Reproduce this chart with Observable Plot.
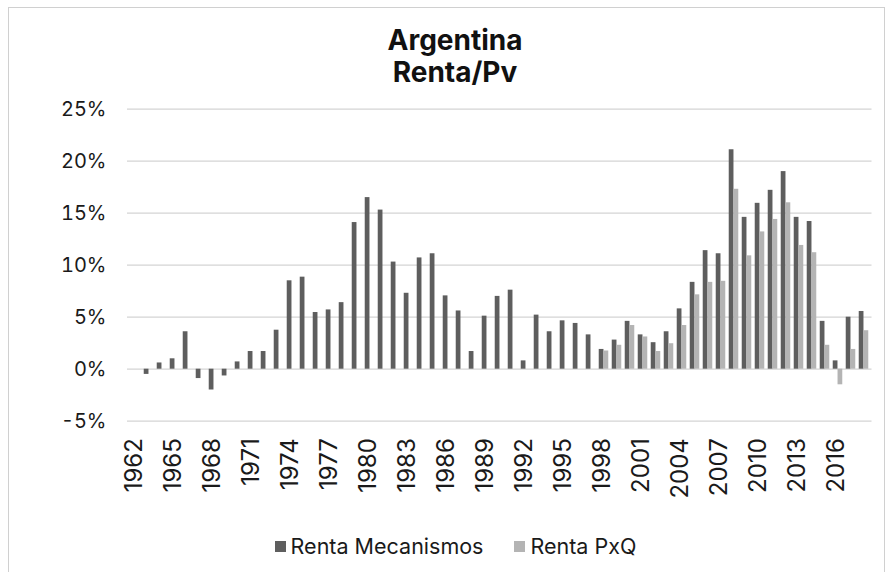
<!DOCTYPE html>
<html>
<head>
<meta charset="utf-8">
<script src="https://cdn.jsdelivr.net/npm/d3@7"></script>
<script src="https://cdn.jsdelivr.net/npm/@observablehq/plot@0.6"></script>
<style>
  html, body { margin: 0; padding: 0; background: #fff; }
  #wrap { position: relative; width: 893px; height: 572px; overflow: hidden; font-family: "Inter", "Open Sans", sans-serif; color: #1a1a1a; }
  #frame { position: absolute; left: 8px; top: 7px; width: 877px; height: 600px; border: 1px solid #d0d0d0; box-sizing: border-box; }
  #title { position: absolute; left: 255px; width: 400px; top: 24px; text-align: center; font-weight: 700; font-size: 28px; line-height: 32px; color: #111; }
  #chart { position: absolute; left: 0; top: 95px; }
  #legend { position: absolute; left: 0; width: 893px; top: 533px; display: flex; justify-content: center; align-items: center; font-size: 21.5px; color: #1a1a1a; padding-left: 18px; box-sizing: border-box; }
  .item { display: flex; align-items: center; margin: 0 15.5px; }
  .sw { width: 11px; height: 11px; margin-right: 5px; }
</style>
</head>
<body>
<div id="wrap">
  <div id="frame"></div>
  <div id="title">Argentina<br>Renta/Pv</div>
  <div id="chart"></div>
  <div id="legend"></div>
</div>
<script>
const years = d3.range(1962, 2019);
const seriesNames = ["Renta Mecanismos", "Renta PxQ"];
const seriesColors = ["#5e5e5e", "#b4b4b4"];
const rentaMecanismos = [
  null, -0.5, 0.6, 1.0, 3.6, -0.9, -2.0, -0.65, 0.7, 1.7,
  1.7, 3.75, 8.5, 8.85, 5.45, 5.7, 6.4, 14.1, 16.5, 15.3,
  10.3, 7.3, 10.7, 11.1, 7.05, 5.6, 1.7, 5.1, 7.0, 7.6,
  0.8, 5.2, 3.6, 4.65, 4.4, 3.3, 1.9, 2.8, 4.6, 3.3,
  2.55, 3.6, 5.8, 8.35, 11.4, 11.1, 21.1, 14.6, 15.95, 17.2,
  19.0, 14.6, 14.2, 4.6, 0.8, 5.0, 5.55
];
const rentaPxQ = [
  null, null, null, null, null, null, null, null, null, null,
  null, null, null, null, null, null, null, null, null, null,
  null, null, null, null, null, null, null, null, null, null,
  null, null, null, null, null, null, 1.75, 2.3, 4.2, 3.1,
  1.7, 2.45, 4.2, 7.15, 8.35, 8.45, 17.3, 10.9, 13.2, 14.4,
  16.0, 11.9, 11.2, 2.3, -1.5, 1.9, 3.7
];
const yTicks = [-5, 0, 5, 10, 15, 20, 25];
const xTickLabels = d3.range(1962, 2019, 3);

const mecData = years.map((year, i) => ({year, value: rentaMecanismos[i]})).filter(d => d.value != null);
const pxqData = years.map((year, i) => ({year, value: rentaPxQ[i]})).filter(d => d.value != null);

const W = 893, H = 415;
const mL = 127, mR = 21.5;
const bw = (W - mL - mR) / years.length;
const barW = 4.8;

const chart = Plot.plot({
  width: W,
  height: H,
  marginLeft: mL,
  marginRight: mR,
  marginTop: 13.7,
  marginBottom: 89.3,
  style: {fontFamily: "Inter, 'Open Sans', sans-serif", color: "#1a1a1a", background: "transparent"},
  x: {type: "band", domain: years, padding: 0},
  y: {domain: [-5, 25]},
  marks: [
    Plot.ruleY(yTicks, {stroke: "#d4d4d4", strokeWidth: 1.2}),
    Plot.barY(mecData, {x: "year", y: "value", fill: seriesColors[0], insetLeft: bw / 2 - barW, insetRight: bw / 2}),
    Plot.barY(pxqData, {x: "year", y: "value", fill: seriesColors[1], insetLeft: bw / 2, insetRight: bw / 2 - barW}),
    Plot.axisY({ticks: yTicks, tickSize: 0, tickPadding: 21, tickFormat: d => d + "%", fontSize: 20, label: null}),
    Plot.axisX({ticks: xTickLabels, tickSize: 0, tickPadding: 17, tickRotate: -90, tickFormat: d => String(d), fontSize: 24, label: null, dx: -2})
  ]
});
document.getElementById("chart").appendChild(chart);

const legend = document.getElementById("legend");
seriesNames.forEach((name, i) => {
  const item = document.createElement("div");
  item.className = "item";
  const sw = document.createElement("div");
  sw.className = "sw";
  sw.style.background = seriesColors[i];
  const label = document.createElement("span");
  label.textContent = name;
  item.appendChild(sw);
  item.appendChild(label);
  legend.appendChild(item);
});
</script>
</body>
</html>
